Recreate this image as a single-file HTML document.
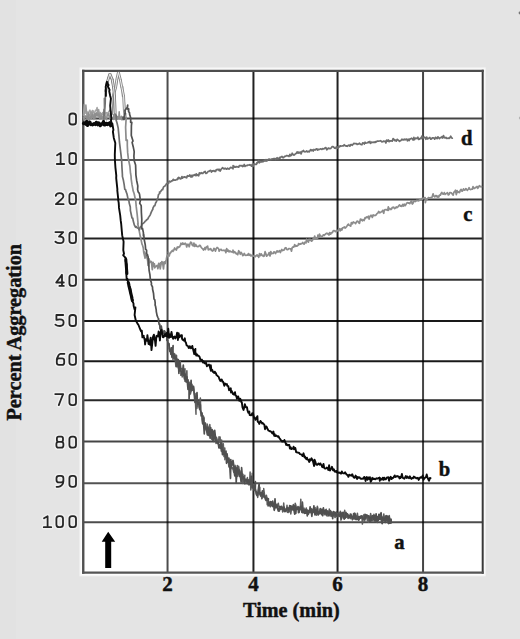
<!DOCTYPE html>
<html><head><meta charset="utf-8"><style>
html,body{margin:0;padding:0;}
body{width:520px;height:639px;overflow:hidden;background:#e3e3e3;}
svg{display:block;}
</style></head><body>
<svg width="520" height="639" viewBox="0 0 520 639">
<rect x="0" y="0" width="520" height="639" fill="#e4e4e4"/>
<rect x="0" y="0" width="16" height="639" fill="#e2e2e2"/>
<rect x="79.5" y="67.4" width="406.2" height="508.9" fill="#f6f6f6"/>
<rect x="80.8" y="68.6" width="403.6" height="506.3" fill="#fdfdfd"/>
<rect x="83.2" y="70.8" width="399.4" height="501.9" fill="#ffffff"/>
<g fill="none">
<line x1="167.55" y1="70.8" x2="167.55" y2="572.7" stroke="#000" stroke-opacity="0.70" stroke-width="2"/>
<line x1="253.45" y1="70.8" x2="253.45" y2="572.7" stroke="#000" stroke-opacity="0.87" stroke-width="2"/>
<line x1="337.55" y1="70.8" x2="337.55" y2="572.7" stroke="#000" stroke-opacity="0.87" stroke-width="2"/>
<line x1="423.05" y1="70.8" x2="423.05" y2="572.7" stroke="#000" stroke-opacity="0.73" stroke-width="2"/>
<line x1="83.2" y1="118.50" x2="482.7" y2="118.50" stroke="#000" stroke-opacity="0.73" stroke-width="2"/>
<line x1="83.2" y1="160.10" x2="482.7" y2="160.10" stroke="#000" stroke-opacity="0.65" stroke-width="2"/>
<line x1="83.2" y1="199.40" x2="482.7" y2="199.40" stroke="#000" stroke-opacity="0.77" stroke-width="2"/>
<line x1="83.2" y1="238.40" x2="482.7" y2="238.40" stroke="#000" stroke-opacity="0.87" stroke-width="2"/>
<line x1="83.2" y1="279.80" x2="482.7" y2="279.80" stroke="#000" stroke-opacity="0.80" stroke-width="2"/>
<line x1="83.2" y1="321.10" x2="482.7" y2="321.10" stroke="#000" stroke-opacity="0.90" stroke-width="2"/>
<line x1="83.2" y1="361.20" x2="482.7" y2="361.20" stroke="#000" stroke-opacity="0.90" stroke-width="2"/>
<line x1="83.2" y1="400.20" x2="482.7" y2="400.20" stroke="#000" stroke-opacity="0.84" stroke-width="2"/>
<line x1="83.2" y1="441.50" x2="482.7" y2="441.50" stroke="#000" stroke-opacity="0.73" stroke-width="2"/>
<line x1="83.2" y1="483.20" x2="482.7" y2="483.20" stroke="#000" stroke-opacity="0.68" stroke-width="2"/>
<line x1="83.2" y1="522.30" x2="482.7" y2="522.30" stroke="#000" stroke-opacity="0.70" stroke-width="2"/>
</g>
<g fill="none">
<line x1="83.25" y1="69.70" x2="83.25" y2="573.80" stroke="#505050" stroke-width="2.4"/>
<line x1="482.70" y1="69.70" x2="482.70" y2="573.80" stroke="#383838" stroke-width="2.0"/>
<line x1="82.05" y1="70.80" x2="483.70" y2="70.80" stroke="#4d4d4d" stroke-width="2.2"/>
<line x1="82.05" y1="572.70" x2="483.70" y2="572.70" stroke="#555555" stroke-width="2.3"/>
</g>
<g fill="none" stroke-linejoin="round" stroke-linecap="round">
<polyline stroke="#a4a4a4" stroke-width="1.5" points="83.5,115.0 84.3,104.3 85.1,113.2 85.9,111.2 86.7,114.0 87.5,112.0 88.3,115.2 89.1,111.3 89.9,110.1 90.7,112.5 91.5,112.2 92.3,110.5 93.1,110.8 93.9,112.9 94.7,112.9 95.5,110.3 96.3,110.6 97.1,107.5 97.9,115.2 98.7,109.6 99.5,114.5 100.3,112.5 101.1,115.9 101.9,115.0 102.7,112.4 103.5,114.9 104.3,109.6 105.1,114.5 105.9,112.9 106.7,112.6 107.5,114.2 108.3,112.3 109.1,111.1 109.9,110.1 110.7,111.2 111.5,114.3 112.3,113.9 111.9,111.5"/>
<polyline stroke="#9a9a9a" stroke-width="1.5" points="83.5,115.4 84.3,112.0 85.1,110.9 85.9,104.9 86.7,113.3 87.5,116.5 88.3,114.1 89.1,115.0 89.9,116.0 90.7,112.2 91.5,119.3 92.3,112.2 93.1,114.7 93.9,119.5 94.7,113.8 95.5,114.2 96.3,113.0 97.1,114.7 97.9,109.7 98.7,112.7 99.5,117.4 100.3,114.4 101.1,113.5 101.9,114.7 102.7,114.8 103.5,114.3 104.3,115.2"/>
<polyline stroke="#8e8e8e" stroke-width="1.5" points="83.5,117.1 84.0,120.0 84.6,119.7 85.1,115.9 85.7,116.4 86.3,115.9 86.8,118.3 87.4,116.9 87.9,118.7 88.5,113.0 89.0,120.5 89.5,116.9 90.1,118.6 90.6,116.8 91.2,116.3 91.8,118.1 92.3,114.3 92.8,116.7 93.4,116.8 94.0,118.6 94.5,115.2 95.0,113.8 95.6,118.0 96.1,115.7 96.7,112.9 97.3,115.4 97.8,116.2 98.3,114.6 98.9,113.9 99.4,117.3 100.0,119.2 100.5,116.7 101.1,115.6 101.6,118.1 102.2,118.8 102.7,116.6 103.3,118.4 103.9,119.5 104.4,116.8 105.0,115.5 105.5,118.0 106.0,117.8 106.6,119.7 107.1,114.5 107.7,115.8 108.3,115.5 108.8,113.5 109.4,117.6 109.9,118.5 110.4,115.7 111.0,120.4 111.5,119.2 112.1,118.7 112.7,118.2 113.2,119.5 113.8,114.4 114.3,118.7 114.9,118.7 115.4,113.5 115.9,118.2 116.5,116.9 117.1,119.1 117.6,116.5 118.1,117.4 118.7,118.2 119.2,111.8 119.8,118.8 120.3,117.2 120.9,118.6 121.4,116.3 122.0,119.9 122.5,118.8 123.1,117.1 123.1,118.8"/>
<polyline stroke="#8c8c8c" stroke-width="1.7" points="112.3,113.9 113.4,98.9 113.1,96.2 113.7,93.1 114.4,90.6 115.6,87.6 115.9,87.6 116.5,83.1 117.2,79.7 116.8,78.3 118.4,74.2 118.8,72.5 118.5,74.1 119.4,76.4 120.5,79.8 120.7,79.4 121.0,84.1 121.5,87.5 122.6,86.8 122.5,91.8 122.6,96.3 123.8,95.8 124.7,109.7 124.9,109.6 125.6,116.9 126.2,117.5 125.7,125.7 125.6,127.3 126.1,140.4 127.3,140.2 127.3,145.5 127.7,152.9 128.4,159.1 129.9,166.2 130.5,173.2 131.0,175.8 131.2,179.1 132.0,184.7 133.1,190.3 133.0,190.4 134.1,193.5 134.7,196.2 135.4,199.6 135.7,200.2 136.2,206.4 137.2,214.7 138.1,223.9 137.7,223.8 138.7,228.0 139.5,232.4 140.5,237.5 140.4,236.7 141.2,240.4 142.0,244.2 142.6,245.5 143.3,248.0 143.3,248.2 143.7,252.2 145.1,258.2 144.6,252.1 145.9,256.0 147.1,258.1 147.7,260.8 148.0,265.5 148.7,263.8 149.1,258.8 149.8,262.4 150.7,261.3 151.4,261.7 152.3,269.6 153.1,262.3 153.7,266.1 154.4,263.9 154.7,267.9 155.5,266.6 156.3,266.0 157.1,265.5 157.9,268.7 158.7,263.3 159.5,266.9 160.6,262.9 160.2,268.9 161.1,264.2 161.8,261.6 162.6,262.4 163.5,269.0 164.2,261.8 165.2,263.5 165.5,262.1 166.2,260.0 166.9,256.5 167.6,255.4 168.7,253.9 168.3,252.0 169.2,256.0 169.8,253.8 170.9,252.4 171.4,251.5 172.5,250.3 173.0,251.4 173.1,250.3 173.7,250.4 174.6,248.0 175.3,249.1 176.4,250.0 177.2,247.2 178.0,247.8 178.0,246.9 178.7,247.2 179.6,247.0 180.6,244.6 181.0,243.2 181.2,243.8 181.9,244.5 182.8,243.0 183.5,244.2 184.3,244.3 185.1,243.2 185.9,243.9 186.7,247.0 187.5,244.3 188.3,244.4 189.2,246.8 189.9,244.0 190.7,242.1 191.6,242.7 191.5,243.1 192.3,245.1 193.2,246.0 193.9,243.0 194.8,246.5 195.8,244.4 196.3,246.0 197.1,246.4 197.8,246.6 198.7,246.4 199.5,245.3 200.3,245.6 201.1,247.2 201.8,248.1 202.7,248.8 203.5,250.1 204.3,248.8 205.1,247.4 205.4,249.6 205.9,248.3 206.6,246.9 207.6,246.1 208.3,249.8 209.1,249.2 209.9,249.6 210.7,248.6 211.4,249.9 212.3,251.1 213.1,250.6 213.9,248.4 214.7,249.2 215.5,251.1 216.2,248.8 217.1,247.5 217.9,247.9 218.7,249.0 219.2,251.2 219.5,250.5 220.3,249.7 221.1,249.3 221.9,250.5 222.7,250.5 223.5,250.2 224.3,250.6 225.1,250.1 225.9,252.7 226.7,248.6 227.5,251.2 228.3,250.1 229.1,251.9 229.9,251.0 230.7,251.7 231.5,251.9 232.4,251.6 233.1,252.5 233.0,250.2 234.0,252.7 234.7,251.7 235.4,252.5 236.2,253.9 237.0,253.6 237.7,254.7 238.7,250.7 239.5,252.2 240.3,254.3 241.0,252.4 241.9,253.5 242.8,255.6 243.5,255.0 244.3,253.4 245.0,255.0 245.9,255.4 246.8,255.0 247.0,254.9 247.6,255.2 248.4,253.6 249.1,255.3 249.8,254.3 250.7,255.8 251.5,255.9 252.3,254.7 253.1,256.2 253.9,256.1 254.8,255.8 255.5,256.6 256.2,255.7 257.1,254.9 257.9,256.2 258.5,256.1 258.7,257.3 259.5,253.7 260.3,255.6 261.2,253.8 261.9,255.2 262.7,255.8 263.5,255.4 263.9,256.3 264.3,255.6 265.1,251.7 265.9,253.8 266.6,256.2 267.5,255.3 268.4,254.4 269.1,252.6 270.0,256.0 270.8,251.6 271.5,253.8 272.3,253.3 273.2,253.4 273.9,251.8 274.6,252.3 275.5,253.6 276.3,251.9 277.1,250.8 277.7,252.0 277.8,252.0 278.7,251.6 279.5,250.6 280.4,252.5 281.0,250.9 281.8,249.5 282.7,250.6 283.7,250.1 284.1,250.0 285.2,247.9 285.9,247.7 286.8,249.5 287.5,249.7 288.3,249.2 289.1,248.5 290.1,248.8 290.7,248.8 291.5,251.2 292.2,247.7 293.1,246.8 293.8,247.2 294.7,244.6 295.5,246.3 296.2,245.6 296.2,246.1 297.0,246.2 298.0,245.4 298.6,243.6 299.5,244.4 300.3,243.6 300.9,244.1 301.9,243.6 302.7,242.5 303.7,243.9 304.1,244.1 305.0,242.2 306.0,242.9 306.6,239.2 307.2,241.0 308.4,242.2 309.1,239.2 309.8,240.1 310.6,239.4 311.4,241.1 312.3,240.8 313.1,238.7 313.8,239.1 314.7,236.1 315.6,239.2 316.2,238.4 317.3,239.0 317.9,235.1 318.8,237.4 319.2,236.5 319.5,234.2 320.3,235.8 320.8,236.1 321.8,236.7 322.8,235.8 323.4,234.8 324.3,235.4 324.9,234.6 325.8,233.8 326.9,233.1 327.5,233.9 328.2,233.7 329.0,235.0 329.7,232.5 330.7,234.2 331.5,232.7 332.4,232.7 333.2,230.8 333.9,230.6 334.6,230.8 335.4,231.7 336.2,230.7 337.1,231.0 337.8,230.3 337.8,230.9 338.7,229.8 339.4,228.7 340.2,230.9 341.2,228.7 341.9,230.0 342.6,227.8 343.4,227.7 344.4,227.0 345.1,228.1 345.8,227.5 346.6,226.6 347.8,224.7 348.5,224.1 349.1,225.3 350.1,225.6 350.7,226.1 351.4,222.5 352.4,223.8 353.3,222.0 353.8,222.3 354.8,222.7 355.6,223.6 356.5,221.8 357.1,221.2 358.0,221.3 358.5,222.5 359.5,223.3 360.4,219.1 361.2,220.0 361.9,219.5 362.5,220.8 363.5,219.7 364.1,220.5 365.1,217.6 365.4,218.5 365.8,217.9 366.8,216.9 367.5,217.5 368.4,216.2 369.1,219.1 369.7,217.1 370.6,215.4 371.4,215.4 372.3,217.4 373.1,214.9 373.8,215.7 374.7,215.3 375.4,215.5 376.4,214.7 376.9,213.6 378.0,212.9 378.7,211.4 379.5,212.8 380.2,212.6 381.2,211.8 381.8,211.7 382.8,210.3 383.7,213.3 384.3,210.4 385.1,209.5 386.0,209.8 386.6,209.7 387.7,210.3 388.3,206.9 388.5,210.3 389.1,208.4 389.9,208.6 390.8,209.5 391.5,209.0 392.3,207.4 393.1,207.7 393.7,207.1 394.6,208.7 395.6,207.9 396.4,206.9 397.0,207.6 398.0,206.8 398.8,205.6 399.6,204.9 400.4,206.2 400.9,205.8 401.9,206.4 402.6,204.5 403.6,206.1 404.2,204.1 405.1,205.7 406.0,204.5 406.6,203.2 407.5,202.6 408.3,203.1 409.1,202.8 409.8,203.7 410.8,201.9 411.7,200.8 411.5,202.3 412.4,204.0 412.9,203.5 413.8,201.1 414.8,201.2 415.5,201.6 416.4,200.4 417.2,200.6 417.9,200.3 418.7,200.9 419.5,199.6 420.3,199.5 420.9,200.0 422.0,198.4 422.5,199.4 423.4,198.1 424.3,198.1 425.2,197.6 425.4,202.6 426.0,199.7 426.7,199.6 427.5,198.9 428.3,197.6 429.0,197.7 429.9,197.8 430.7,197.7 431.5,197.7 432.1,196.9 433.1,193.8 433.7,195.9 434.8,196.9 435.5,195.7 436.4,195.7 437.2,197.2 437.8,196.1 438.8,197.0 439.5,195.0 440.4,195.1 441.0,193.6 441.8,192.5 442.6,193.9 443.4,194.1 443.8,193.7 444.3,192.6 445.1,194.4 445.9,193.7 446.7,193.5 447.4,192.6 448.3,194.9 449.1,194.5 449.8,192.6 450.7,192.7 451.4,192.9 452.4,194.2 453.2,195.2 453.8,192.3 454.7,191.7 455.5,190.2 456.3,194.6 457.1,190.6 458.0,192.4 458.6,191.9 459.5,192.6 460.3,190.3 461.1,189.4 461.9,191.0 462.2,191.2 462.7,190.5 463.5,188.8 464.2,190.2 465.0,189.9 465.9,188.6 466.7,189.6 467.4,190.3 468.3,189.3 469.1,187.7 469.9,189.3 470.8,189.6 471.6,189.1 472.3,189.2 473.0,186.6 473.8,188.5 474.8,188.4 475.5,187.3 476.4,187.4 477.0,186.5 477.9,188.3 478.6,186.6 479.4,185.7 480.2,186.7 481.1,186.4 481.5,186.9"/>
<polyline stroke="#6e6e6e" stroke-width="1.7" points="104.3,115.2 104.6,111.3 105.2,102.7 105.5,90.8 105.6,90.3 106.4,85.1 107.3,81.1 107.7,81.0 108.0,78.4 108.8,76.7 109.9,73.8 109.8,74.2 110.7,75.3 111.1,78.5 112.8,79.4 112.2,80.6 113.0,85.1 113.1,86.1 114.0,90.9 114.8,95.9 114.6,100.6 114.8,105.3 115.0,113.2 116.2,115.3 116.4,119.6 116.1,120.1 117.1,123.2 118.2,128.1 118.4,130.3 118.8,134.4 119.3,140.1 119.4,141.7 120.5,150.6 121.6,159.8 122.0,168.1 122.4,174.5 122.4,176.4 123.4,180.3 124.1,184.2 124.8,189.3 125.6,189.8 126.0,191.4 127.0,194.0 127.6,196.9 128.2,199.9 128.8,199.8 129.2,203.0 130.3,207.0 130.4,210.6 131.4,215.2 132.0,218.0 132.7,218.0 133.2,220.8 133.6,222.3 134.4,225.2 135.6,227.3 135.2,226.8 136.2,226.5 137.1,227.9 137.8,228.0 138.7,228.6 139.0,229.4 139.5,229.8 140.0,227.5 141.4,226.2 142.1,224.3 141.8,224.7 142.6,223.5 143.2,223.5 144.6,222.1 145.0,221.4 146.0,220.6 146.8,219.6 147.7,219.2 148.3,218.1 148.4,217.5 149.2,216.5 150.1,215.1 150.5,214.1 151.5,211.7 151.9,210.9 152.9,209.0 152.9,208.2 154.1,205.8 154.9,205.6 155.7,202.8 155.7,202.8 156.1,202.3 157.1,200.0 157.1,199.5 157.8,198.3 158.5,194.5 159.8,193.3 159.5,192.1 160.5,191.8 161.0,191.0 162.3,189.3 162.7,189.5 163.5,187.0 163.7,186.8 164.0,186.5 164.7,186.3 165.9,184.7 166.5,183.8 167.5,183.4 168.7,183.3 168.4,182.0 169.3,181.2 169.9,181.7 170.6,181.9 171.6,180.8 172.4,180.9 173.2,179.3 173.8,180.3 174.6,180.0 175.6,180.1 176.5,179.5 177.3,179.6 177.7,178.1 177.9,179.2 178.7,177.4 179.6,178.0 180.3,179.0 181.1,178.7 181.9,176.6 182.5,178.1 183.4,177.2 184.3,176.8 185.0,177.3 186.0,177.1 186.6,177.8 187.5,175.7 188.4,176.2 189.2,176.2 189.8,174.9 190.7,176.8 191.6,177.0 191.5,175.4 192.4,176.7 192.9,175.2 193.9,175.4 194.7,174.6 195.5,175.5 196.2,173.9 197.0,175.5 197.9,174.6 198.7,175.8 199.4,172.8 200.4,173.7 201.2,172.7 201.9,173.3 202.8,173.5 203.4,172.4 204.3,171.9 205.2,171.5 205.4,172.8 205.9,173.4 206.7,173.1 207.5,172.2 208.3,171.3 209.0,171.5 209.9,170.6 210.7,170.4 211.5,172.0 212.2,170.9 213.1,171.1 214.0,170.6 214.7,171.5 215.6,171.4 216.2,169.7 217.0,169.8 217.9,169.4 218.6,169.6 219.1,170.5 219.4,169.3 220.3,171.0 221.1,169.3 222.0,168.3 222.7,167.6 223.5,168.8 224.3,169.0 225.1,168.2 225.9,168.7 226.7,169.2 227.5,168.2 228.4,168.7 229.0,169.1 229.9,168.2 230.7,167.3 231.5,167.8 232.3,167.8 233.0,168.8 233.1,165.6 233.9,166.1 234.7,167.2 235.5,167.1 236.2,166.5 237.0,167.0 237.9,166.7 238.7,167.2 239.4,165.7 240.3,165.6 241.1,166.0 242.0,165.5 242.7,166.6 243.5,166.0 244.2,164.5 245.0,166.4 245.9,165.5 246.7,165.7 247.0,165.6 247.5,165.0 248.3,165.0 249.1,165.2 249.9,164.6 250.7,165.2 251.5,166.1 251.6,165.7 252.2,164.5 253.0,166.4 253.9,163.8 254.8,164.2 255.4,164.3 256.5,164.3 257.0,162.5 257.8,162.8 258.7,160.5 259.5,162.8 260.2,162.0 260.9,161.8 261.2,161.8 261.9,161.8 262.8,161.6 263.5,161.6 264.5,160.2 265.1,161.1 265.9,159.6 266.7,161.0 267.5,160.3 268.3,159.4 269.1,159.0 269.9,159.6 270.8,159.6 271.5,159.0 272.4,158.9 273.1,158.8 274.0,158.5 274.6,158.6 275.3,158.7 275.6,159.4 276.4,158.8 277.1,157.7 277.7,159.0 278.8,158.5 279.5,157.4 280.2,158.0 281.2,156.8 282.0,156.4 282.7,157.6 283.5,157.7 284.4,156.4 285.2,156.4 286.0,156.0 286.7,155.5 287.7,155.9 288.3,155.8 289.0,156.5 289.9,154.4 290.6,155.8 291.5,155.0 292.2,153.2 293.2,154.8 294.0,155.1 294.8,154.5 295.5,153.7 296.2,153.5 297.1,151.8 297.9,153.2 298.5,152.9 298.7,152.1 299.5,152.8 300.3,152.0 301.1,153.9 301.9,151.4 302.7,151.5 303.4,150.5 304.3,151.6 305.2,151.8 305.9,151.6 306.6,151.0 307.5,151.9 308.3,151.3 309.1,151.9 309.9,150.8 310.6,149.6 311.5,150.6 312.2,149.8 313.2,151.0 313.9,149.5 314.7,150.0 315.4,150.0 316.3,148.8 317.1,149.5 317.8,150.2 317.9,149.2 318.7,149.4 319.6,149.5 320.3,148.8 321.1,149.0 321.9,149.4 322.6,148.7 323.5,148.9 324.3,148.6 325.1,147.9 325.9,147.6 326.7,149.8 327.5,149.2 328.3,148.1 329.0,148.2 329.9,148.7 330.7,148.5 331.5,147.5 332.2,146.6 333.1,146.7 333.9,147.3 334.6,148.2 335.5,148.3 336.3,146.9 336.9,146.8 337.0,147.8 337.9,148.3 338.7,146.1 339.5,146.9 340.3,145.8 341.0,146.1 341.9,146.0 342.6,145.8 343.6,145.9 344.2,144.7 345.0,145.6 345.9,146.1 346.6,145.9 347.5,146.3 348.3,145.3 349.1,145.1 349.9,146.2 350.7,144.6 351.5,144.7 352.3,145.3 353.1,144.3 353.9,143.3 354.6,143.7 355.4,143.6 356.0,143.7 356.4,143.5 357.1,144.4 357.9,144.1 358.7,143.9 359.5,143.2 360.2,144.1 361.1,144.5 361.9,144.8 362.7,142.8 363.5,143.1 364.3,144.0 365.1,142.2 365.9,143.1 366.7,143.0 367.5,142.8 368.4,142.0 369.1,142.6 369.9,141.5 370.7,143.3 371.5,142.1 372.3,142.4 373.1,142.2 374.0,142.3 374.6,142.2 375.4,142.3 375.5,141.7 376.3,142.0 377.1,141.1 377.9,141.1 378.7,141.2 379.5,141.0 380.3,140.7 381.1,141.1 381.9,141.9 382.7,141.7 383.5,141.1 384.3,141.5 385.1,141.2 385.9,143.0 386.7,140.0 387.5,141.2 388.3,140.0 389.1,141.7 389.9,140.7 390.7,141.1 391.5,140.8 392.3,141.1 393.1,138.5 393.9,139.7 394.6,140.5 394.7,139.5 395.5,140.7 396.3,141.1 397.1,139.3 397.9,139.9 398.7,140.5 399.5,141.3 400.3,140.7 401.1,140.4 401.9,139.2 402.7,139.8 403.5,139.8 404.3,139.2 405.1,139.8 405.8,139.3 406.7,139.1 407.5,140.8 408.3,139.2 409.1,140.5 409.9,138.9 410.7,139.0 411.4,138.2 412.3,138.5 413.1,140.0 413.8,138.8 413.9,137.4 414.6,139.7 415.5,138.1 416.3,138.3 417.1,138.6 417.9,137.2 418.7,139.5 419.5,139.3 420.3,138.1 421.1,138.5 421.9,136.0 422.7,137.8 423.5,138.0 424.3,137.1 425.1,137.7 425.4,137.6 425.9,139.3 426.7,137.0 427.5,138.9 428.3,138.5 429.1,138.1 429.9,137.5 430.7,139.2 431.5,138.9 432.3,137.9 433.1,137.8 433.9,138.0 434.7,139.2 435.5,137.3 436.3,137.9 437.1,138.7 437.9,136.9 438.7,137.8 439.5,138.6 440.3,137.5 441.1,137.7 441.9,136.7 442.7,138.1 443.5,135.5 444.3,137.5 445.1,138.0 445.9,137.4 446.7,138.4 447.5,138.3 448.3,138.1 449.1,138.4 449.9,137.6 450.7,136.2 451.5,137.8 452.3,138.2"/>
<polyline stroke="#8a8a8a" stroke-width="2.8" stroke-linejoin="miter" stroke-miterlimit="2.5" points="113.3,96.0 115.7,87.2 116.8,79.5 118.4,72.2 120.3,79.5 121.8,87.2 123.6,96.0 124.3,109.8 125.0,116.7"/>
<polyline stroke="#f4f4f4" stroke-width="1.0" stroke-linejoin="miter" stroke-miterlimit="2.5" points="113.3,96.0 115.7,87.2 116.8,79.5 118.4,72.2 120.3,79.5 121.8,87.2 123.6,96.0 124.3,109.8 125.0,116.7"/>
<polyline stroke="#808080" stroke-width="2.8" stroke-linejoin="miter" stroke-miterlimit="2.5" points="105.7,91.0 107.6,81.0 109.9,73.8 112.2,79.5 113.4,86.5 114.5,96.0 114.9,105.0 115.2,113.0"/>
<polyline stroke="#f0f0f0" stroke-width="1.0" stroke-linejoin="miter" stroke-miterlimit="2.5" points="105.7,91.0 107.6,81.0 109.9,73.8 112.2,79.5 113.4,86.5 114.5,96.0 114.9,105.0 115.2,113.0"/>
<polyline stroke="#5e5e5e" stroke-width="1.5" points="168.5,345.0 169.1,343.5 169.3,348.2 169.7,351.2 170.6,351.3 171.1,347.8 171.9,350.5 172.0,353.4 172.1,354.3 172.7,351.2 172.9,359.6 173.6,355.6 174.1,353.5 175.0,354.3 175.1,358.0 175.9,366.6 176.9,364.6 176.5,355.2 176.6,362.4 177.8,365.1 178.2,367.8 178.8,368.0 179.4,365.6 178.9,369.5 179.5,366.7 180.3,360.9 180.5,367.7 181.2,368.6 182.2,369.4 182.2,377.0 183.1,369.6 183.8,375.2 183.9,375.3 184.0,370.0 185.0,368.8 184.9,381.2 186.2,379.4 186.1,377.7 186.9,370.7 187.2,382.1 187.5,380.7 188.2,379.8 188.6,383.0 189.2,385.1 189.3,388.4 190.1,387.2 190.4,394.1 191.3,390.3 191.8,389.8 192.0,384.3 192.5,390.5 192.8,390.3 193.6,386.3 193.9,391.4 194.9,396.5 195.1,393.4 196.0,414.2 195.9,403.7 196.4,396.9 196.9,401.6 196.9,408.4 198.1,401.4 198.2,400.9 198.5,404.2 199.6,402.3 200.4,397.9 200.7,410.8 200.4,408.1 200.7,413.2 201.0,415.9 202.1,413.2 202.7,417.1 203.3,416.0 203.9,417.6 203.9,417.8 204.2,423.4 204.8,422.9 205.3,425.9 206.0,429.7 206.8,430.9 207.2,424.1 207.8,426.3 208.0,429.0 208.4,430.9 209.0,434.7 209.7,427.6 209.8,424.4 210.5,433.6 211.1,438.1 211.6,439.2 212.4,430.3 212.9,434.0 212.8,431.8 213.7,438.9 214.0,438.1 214.6,435.7 214.8,435.5 215.7,439.8 216.0,443.5 216.4,437.2 217.2,439.7 217.5,442.1 217.5,441.8 218.4,443.9 219.0,436.7 219.2,442.0 220.1,437.1 220.7,446.3 221.3,451.2 221.6,439.9 222.0,446.3 222.9,452.8 222.6,449.2 223.3,443.8 224.0,456.6 224.8,448.0 224.9,459.8 225.5,453.6 226.1,454.3 226.6,458.3 227.4,459.4 227.6,462.3 228.0,462.4 228.1,460.5 228.9,467.0 229.1,465.3 229.7,464.3 230.7,464.5 230.9,464.3 231.1,465.1 231.9,468.7 232.4,468.7 232.7,467.7 233.7,472.2 234.2,467.7 234.1,470.6 234.9,472.8 235.0,465.3 236.0,469.2 236.4,478.2 237.3,465.4 237.5,476.2 238.1,467.8 238.6,466.2 239.1,468.7 239.6,470.9 239.9,472.0 240.3,472.4 240.9,477.4 241.4,479.7 241.8,478.1 242.8,476.7 242.8,483.6 243.7,480.2 244.1,478.7 244.8,475.3 244.6,480.3 245.4,480.6 245.8,479.3 246.5,481.5 247.2,482.0 247.4,477.5 248.0,482.1 248.2,481.9 249.1,482.1 249.7,480.6 250.1,472.0 250.4,482.4 250.7,486.5 250.8,489.9 252.0,483.2 252.2,473.3 252.6,485.0 253.7,484.4 254.1,486.4 254.7,489.5 254.6,485.9 255.0,490.6 255.8,491.6 256.1,494.1 256.8,495.4 257.2,493.4 257.7,497.5 258.5,489.9 258.8,492.6 259.8,487.2 259.9,493.9 260.8,496.0 261.1,492.5 261.8,498.8 262.4,497.9 262.5,495.7 263.5,496.4 263.8,492.7 263.7,488.5 264.7,496.0 265.1,497.8 265.7,498.3 266.4,495.2 266.9,497.8 267.2,504.7 267.6,502.5 268.6,502.9 268.7,502.4 269.1,504.6 270.4,506.8 270.6,505.7 270.3,502.5 271.1,504.8 271.4,501.7 272.2,503.6 272.7,506.5 273.1,503.5 273.9,504.7 274.3,509.8 275.0,508.0 275.4,507.8 276.2,505.8 276.7,504.3 277.1,507.0 277.4,506.5 278.3,503.2 278.6,505.4 279.0,506.9 279.4,511.1 279.9,506.9 280.4,507.9 280.9,509.4 281.5,508.7 282.1,507.4 282.6,511.9 283.2,511.2 283.7,503.0 284.3,510.4 284.8,509.6 285.4,510.6 285.9,508.7 286.5,510.4 287.0,505.2 287.5,512.4 288.1,512.6 288.7,511.1 289.2,511.9 289.8,510.9 290.2,506.5 290.8,513.9 291.4,509.6 291.9,509.8 292.6,509.4 293.1,510.2 293.3,504.6 293.7,509.8 294.1,506.6 294.7,507.2 295.2,503.3 295.8,504.9 296.4,507.9 296.9,508.5 297.5,509.4 298.0,509.3 298.5,507.3 299.2,508.3 299.7,507.1 300.2,509.3 300.8,499.2 301.3,509.2 301.9,512.1 302.4,512.8 302.9,512.7 303.5,511.4 304.0,508.1 304.6,512.4 305.2,511.6 305.8,511.1 306.3,507.9 306.7,511.5 307.3,513.7 307.7,512.3 307.9,510.2 308.5,514.2 309.0,510.8 309.6,511.3 310.1,512.8 310.7,511.7 311.2,511.2 311.7,511.9 312.3,510.5 312.9,509.0 313.4,512.3 313.9,510.0 314.5,512.6 315.1,507.4 315.6,514.1 316.1,511.3 316.7,515.2 317.3,506.2 317.8,508.0 318.4,514.8 318.9,512.1 319.5,512.5 320.0,509.0 320.5,512.3 321.1,513.2 321.6,509.9 322.1,511.7 322.2,514.9 322.7,512.6 323.3,511.0 323.8,512.6 324.4,514.7 324.9,512.1 325.5,512.3 326.2,509.2 326.6,514.7 327.1,516.1 327.7,510.8 328.2,513.9 328.9,515.5 329.3,509.1 330.0,513.7 330.4,514.5 331.1,513.4 331.6,511.8 332.1,515.0 332.6,516.5 333.3,513.7 333.7,515.5 334.2,515.2 335.0,517.6 335.4,517.1 335.9,514.4 336.6,512.1 336.4,511.7 337.0,513.8 337.6,513.9 338.2,515.3 338.7,512.3 339.2,514.6 339.8,516.1 340.3,511.3 340.9,520.1 341.4,519.1 342.1,516.4 342.5,512.5 343.1,513.1 343.6,517.7 344.2,518.4 344.7,510.3 345.3,518.2 345.8,517.3 346.5,517.2 346.9,513.5 347.5,516.6 348.1,514.7 348.7,517.4 349.3,517.4 349.7,517.7 350.3,518.6 350.9,515.8 351.0,514.3 351.4,516.6 351.9,518.8 352.4,519.9 353.0,516.6 353.6,517.3 354.1,515.9 354.7,513.1 355.2,517.1 355.8,519.6 356.3,516.1 356.8,516.7 357.4,513.2 357.9,517.3 358.6,520.3 359.0,517.3 359.6,518.7 360.2,518.4 360.7,515.9 361.3,518.0 361.8,515.8 362.4,524.1 363.0,518.2 363.5,515.4 364.0,514.5 364.5,521.2 365.1,519.3 365.4,518.9 365.7,515.0 366.2,516.8 366.7,515.4 367.3,520.5 367.9,516.9 368.4,522.3 368.9,519.2 369.5,517.4 370.1,521.1 370.6,513.5 371.1,516.3 371.7,517.3 372.2,520.5 372.8,520.6 373.3,519.0 373.9,514.3 374.4,517.1 375.0,515.8 375.6,521.0 376.1,517.3 376.6,519.4 377.2,522.4 377.7,518.2 378.3,519.9 378.9,515.0 379.4,518.5 379.8,518.5 380.0,518.4 380.5,518.6 381.1,517.7 381.5,522.7 382.2,517.2 382.7,519.2 383.2,518.1 383.8,513.9 384.3,521.0 384.9,519.4 385.4,516.0 386.0,517.4 386.5,515.6 387.0,519.8 387.6,522.6 388.2,521.9 388.7,516.5 389.3,515.6 389.8,520.6 390.4,523.2 390.9,519.6 391.3,521.9"/>
<polyline stroke="#505050" stroke-width="1.7" points="123.1,117.1 123.1,118.8 124.0,119.5 124.4,117.0 125.0,112.4 125.4,113.8 125.1,112.6 124.9,110.5 126.5,108.2 127.3,108.7 127.7,105.2 127.3,107.1 128.0,109.5 128.7,108.8 128.6,111.7 129.5,112.6 129.6,114.2 130.8,118.2 130.6,122.3 131.8,122.4 131.4,125.7 131.3,135.4 133.0,141.0 132.1,142.4 133.2,146.7 134.2,151.7 133.9,156.2 134.2,160.8 135.6,165.1 135.8,170.6 135.9,175.2 135.9,174.9 136.7,180.7 137.8,185.9 137.6,189.6 138.2,192.0 139.0,192.9 139.5,194.0 140.1,198.4 140.5,200.1 139.7,203.3 141.2,205.6 141.4,212.7 141.8,219.4 141.6,224.9 141.8,228.9 142.5,228.3 143.4,232.7 143.4,235.7 143.7,234.3 144.3,240.0 145.3,245.2 145.4,246.4 145.6,249.1 146.6,250.2 146.6,253.9 147.5,254.7 147.0,255.6 148.0,256.0 148.4,260.2 149.0,266.4 148.8,265.6 149.1,270.3 149.9,274.7 150.4,279.9 151.2,282.1 151.5,283.2 151.3,284.7 152.5,287.0 152.6,289.3 153.5,293.2 153.7,295.3 154.0,299.0 154.8,299.9 155.2,303.0 155.1,305.1 155.5,306.0 156.2,309.9 156.3,311.6 157.1,315.6 158.0,317.8 158.8,319.2 158.3,319.6 159.2,324.5 159.7,324.1 159.8,324.5 160.0,328.9 161.3,326.1 161.8,329.3 162.7,330.7 162.5,330.9 162.9,331.6 163.6,331.9 163.6,333.9 164.4,330.9 164.8,331.3 165.4,332.9 165.6,335.3 165.1,335.7 166.9,336.8 166.8,340.2 167.8,340.4 167.5,341.1 168.3,343.6 169.0,344.4 169.4,348.0 169.3,348.2 170.2,351.9 170.5,351.3 170.9,354.4 171.7,347.8 171.9,357.3 173.1,345.7 172.9,352.2 173.2,354.9 173.8,354.5 174.0,358.7 174.5,356.4 175.4,360.0 176.0,357.4 176.8,366.7 176.6,361.9 176.7,358.5 177.7,364.2 178.3,359.6 178.9,373.4 179.3,362.3 178.9,368.9 180.0,370.9 180.1,364.0 181.0,371.6 181.0,375.2 182.1,373.9 182.3,373.9 183.3,365.1 184.0,375.2 184.2,376.3 183.8,375.0 184.5,379.0 185.0,374.1 186.0,381.9 186.4,381.9 186.9,376.9 187.5,383.6 188.0,389.4 188.2,387.0 189.0,382.3 189.1,399.0 189.7,384.5 189.7,386.7 190.4,388.5 191.1,380.3 191.4,390.6 191.9,386.2 192.7,388.4 192.8,386.3 193.4,387.1 193.9,390.3 194.6,398.1 195.0,402.3 195.8,396.7 196.1,401.4 196.4,397.0 197.0,392.5 197.4,401.7 197.9,404.3 199.0,402.6 199.0,406.9 199.8,409.4 200.1,405.7 200.4,404.7 200.5,409.7 200.9,411.6 201.8,412.9 202.1,419.6 202.7,424.0 203.8,418.2 203.5,422.5 204.3,434.0 204.6,424.9 205.3,427.4 205.4,423.2 206.2,428.7 207.4,434.8 207.5,428.3 208.1,427.2 208.1,432.3 208.5,435.4 208.7,432.4 209.3,429.2 210.1,438.2 210.7,427.6 211.0,435.2 211.6,433.7 212.1,429.5 212.7,440.1 212.6,436.4 213.0,431.0 213.8,441.4 214.0,435.4 214.7,430.4 215.3,435.9 215.8,440.4 216.7,442.7 217.0,441.6 217.7,441.9 217.5,443.5 218.1,441.8 218.9,448.0 219.4,444.9 219.8,446.4 220.5,448.2 221.0,442.9 221.6,445.1 222.5,454.7 222.4,450.7 222.8,453.3 223.3,452.2 223.7,450.3 224.0,454.4 225.0,452.1 225.5,456.8 226.0,451.1 226.5,463.3 227.0,457.5 227.1,453.9 227.7,459.5 227.7,459.6 228.7,462.4 228.9,458.0 229.7,464.8 230.5,478.4 230.8,459.6 231.3,466.7 232.1,464.9 232.5,461.5 233.0,460.4 233.5,463.7 234.3,470.5 234.3,472.9 234.8,475.9 235.1,466.9 236.0,470.9 236.2,482.4 237.0,468.1 237.3,468.0 238.4,471.9 238.3,472.3 239.4,476.4 239.8,473.9 239.5,470.5 240.2,474.6 241.1,482.0 241.6,478.7 241.6,467.7 242.3,475.7 242.8,474.2 243.3,479.0 244.0,477.3 244.9,483.9 244.7,481.0 245.2,481.3 245.7,479.6 246.4,479.3 246.9,480.8 247.2,483.9 248.2,482.0 248.3,479.8 249.0,484.9 249.7,482.1 250.4,484.2 250.3,479.8 250.8,481.0 251.5,476.4 251.9,476.4 252.6,487.9 253.1,487.5 253.5,486.2 254.1,490.5 254.8,489.6 254.6,489.5 255.4,481.7 255.3,488.6 256.0,491.2 257.0,494.8 257.4,495.8 257.7,495.1 258.5,488.0 259.1,483.9 259.4,493.8 260.2,492.7 260.6,495.8 261.1,493.0 261.7,494.5 262.4,490.9 262.6,495.9 263.3,493.8 263.9,496.4 263.6,496.8 264.1,495.9 265.1,497.8 265.5,499.6 266.1,500.5 266.7,500.4 267.0,498.2 268.4,498.7 268.1,506.0 268.7,501.5 269.1,505.3 269.8,504.3 270.5,501.9 270.5,501.5 271.1,504.3 271.5,505.0 272.4,506.3 272.7,501.0 273.1,503.3 273.9,505.0 274.3,510.3 275.0,498.9 275.5,507.1 276.0,505.2 276.6,507.6 277.0,505.9 277.4,508.0 278.3,510.9 278.7,508.5 278.8,511.1 279.3,508.7 279.8,506.3 280.4,509.1 281.0,507.6 281.5,506.3 282.0,508.0 282.5,507.7 283.1,509.9 283.7,508.2 284.2,507.2 284.8,511.6 285.3,510.6 285.9,511.3 286.4,509.9 287.0,508.4 287.5,507.7 288.2,508.1 288.7,510.8 289.2,509.0 289.7,505.6 290.3,508.8 290.8,505.9 291.3,509.4 291.9,506.4 292.5,506.4 293.0,509.4 293.3,509.0 293.6,505.6 294.1,510.9 294.7,514.1 295.3,506.2 295.8,513.4 296.3,508.0 296.9,508.5 297.5,509.2 298.0,506.5 298.5,512.6 299.1,512.5 299.7,508.2 300.2,509.3 300.8,506.3 301.3,509.3 301.9,512.1 302.4,502.2 303.0,509.3 303.5,512.4 304.0,512.6 304.6,513.3 305.1,509.4 305.7,513.1 306.2,511.5 306.8,509.8 307.3,516.0 307.7,513.1 307.9,514.4 308.5,511.2 309.1,510.4 309.5,512.1 310.1,506.8 310.6,510.9 311.2,508.7 311.8,516.3 312.3,512.6 312.8,511.5 313.4,510.8 313.9,505.8 314.5,512.9 315.1,515.0 315.6,509.9 316.2,513.0 316.7,513.2 317.2,508.2 317.8,513.7 318.3,514.7 318.9,512.3 319.4,511.7 320.0,513.6 320.5,508.6 321.1,512.2 321.7,514.4 322.0,509.4 322.2,514.3 322.7,515.7 323.4,507.8 323.8,512.1 324.5,510.3 324.8,513.3 325.5,510.1 326.0,515.0 326.6,511.2 327.1,513.7 327.6,511.7 328.2,512.4 328.9,515.8 329.4,513.7 329.8,512.5 330.5,510.7 331.0,516.1 331.5,515.2 332.0,513.0 332.7,518.7 333.3,511.6 333.7,511.7 334.3,512.2 334.9,514.9 335.5,514.9 335.8,512.7 336.5,516.0 336.5,516.1 337.0,514.9 337.6,516.8 338.2,514.0 338.7,514.5 339.2,515.8 339.8,514.8 340.3,516.7 340.9,512.3 341.5,518.2 342.0,513.5 342.5,514.9 343.2,512.3 343.7,516.7 344.2,519.2 344.7,517.9 345.3,517.4 345.9,512.3 346.4,514.1 346.9,514.8 347.5,513.9 348.1,518.4 348.6,516.5 349.1,516.1 349.8,517.3 350.3,514.2 350.8,514.4 350.9,516.6 351.3,515.2 351.9,517.2 352.5,517.8 353.0,519.0 353.6,513.7 354.1,515.5 354.6,518.9 355.1,513.9 355.7,515.7 356.2,519.2 356.8,519.4 357.4,519.4 358.0,517.2 358.5,516.7 359.0,519.6 359.7,516.5 360.2,518.1 360.7,517.7 361.2,516.7 361.7,516.2 362.4,517.1 362.9,518.9 363.5,518.8 364.0,518.1 364.6,519.0 365.1,514.4 365.4,516.0 365.6,518.3 366.2,515.9 366.7,515.0 367.3,515.3 367.8,516.0 368.4,517.6 368.9,515.8 369.5,518.5 370.0,521.8 370.6,517.3 371.1,520.9 371.7,518.7 372.2,515.6 372.8,517.5 373.3,516.0 373.9,519.8 374.4,515.6 375.0,521.1 375.6,518.0 376.1,513.8 376.6,519.9 377.2,521.6 377.7,516.5 378.3,520.4 378.9,514.3 379.4,518.8 379.8,514.7 380.0,519.4 380.5,514.5 381.1,512.7 381.6,519.4 382.2,523.6 382.7,517.3 383.3,520.5 383.9,519.0 384.4,518.1 384.9,520.2 385.5,522.5 386.0,516.2 386.6,520.2 387.1,519.8 387.7,516.0 388.2,522.7 388.7,523.5 389.3,517.2 389.8,523.2 390.4,519.5 391.0,519.1 391.3,522.8"/>
<polyline stroke="#777" stroke-width="1.5" points="103.5,122.0 103.6,125.2 103.9,109.8 104.4,108.4 104.3,98.2"/>
<polyline stroke="#0a0a0a" stroke-width="1.9" points="105.9,95.9 105.9,87.7 105.6,87.1 106.8,82.0 107.2,81.9 107.7,83.8 108.6,85.1 107.8,86.1 109.6,89.9 109.2,91.0 110.2,96.0 110.9,98.6 110.2,105.5 110.5,110.0 111.4,118.5 111.0,120.2 111.5,123.3 112.3,123.5 113.4,129.9 112.9,131.5 113.8,137.9 115.3,142.9 114.8,154.6 114.9,159.8 115.4,167.3 116.3,175.6 116.2,178.1 117.4,189.3 117.3,190.4 118.2,198.6 118.2,200.1 118.7,202.9 118.9,205.7 119.0,207.9 120.2,215.4 120.7,220.4 121.2,224.0 121.9,232.1 122.2,235.4 123.6,241.6 123.3,250.3 124.0,253.8 123.2,255.3 124.5,256.6 125.4,257.9 125.9,258.1 125.6,261.0 126.7,264.6 126.4,270.4 126.2,272.1 126.7,279.7 127.5,279.1 128.2,283.0 128.7,283.4 129.3,286.4 130.4,289.1 130.6,291.6 130.7,293.1 131.5,296.7 132.0,299.3 132.0,300.6 132.9,302.3 133.5,303.4 133.6,305.7 134.7,309.7 135.4,307.4 134.6,315.0 135.9,321.0 136.0,320.8 137.1,322.9 137.5,323.7 138.5,325.0 140.1,329.1 139.8,328.2 140.3,329.5 141.1,331.3 141.8,330.7 142.4,337.3 143.7,335.8 143.8,336.5 144.7,339.9 145.1,344.5 145.8,339.2 146.9,340.8 147.4,335.1 148.6,344.0 149.1,342.5 150.1,344.8 150.0,340.8 150.7,337.6 151.5,350.1 152.4,342.1 153.0,336.9 153.9,334.7 154.6,340.0 154.7,338.0 155.6,345.8 156.4,336.0 156.9,335.7 158.0,336.5 158.6,331.5 159.2,333.3 159.9,340.5 160.3,335.2 161.1,329.7 161.9,331.6 162.8,337.1 163.5,337.3 164.3,336.0 165.1,334.0 165.9,336.0 166.7,336.2 167.0,332.6 167.5,336.9 168.3,328.8 169.1,337.8 169.9,334.4 170.7,337.1 171.5,332.0 172.3,336.6 173.1,338.8 173.9,337.1 174.7,336.5 175.4,338.4 176.3,337.2 177.1,332.7 177.9,335.6 177.9,340.0 178.6,333.2 179.5,337.2 180.2,336.3 180.9,335.2 181.9,335.3 182.0,338.5 182.5,339.6 183.7,340.6 184.8,338.3 185.2,341.6 185.9,342.5 186.6,345.4 187.9,346.0 188.4,347.2 188.7,348.0 189.1,348.0 189.8,346.2 191.0,348.3 191.5,347.8 192.3,345.9 192.7,347.7 194.3,354.2 194.8,350.0 195.4,348.9 195.3,351.5 196.2,355.6 196.7,354.2 198.0,355.8 198.5,355.7 199.6,356.9 200.4,359.8 201.5,360.0 201.9,359.6 202.8,362.0 203.1,362.6 203.4,361.2 204.3,362.7 205.2,363.5 206.1,362.8 206.9,366.4 207.4,365.2 208.5,365.3 209.0,364.5 209.6,365.9 211.0,370.9 210.8,365.1 211.4,370.1 212.1,369.7 213.0,371.9 214.3,372.9 214.7,371.7 216.0,373.3 216.3,374.7 217.3,375.6 217.9,376.3 218.6,376.7 219.4,379.0 220.3,380.9 220.9,380.5 221.7,379.4 222.4,381.6 223.0,381.5 223.5,382.9 224.3,385.8 224.9,383.5 226.1,384.6 226.9,384.1 227.3,385.8 228.3,386.2 229.1,390.3 229.6,389.2 230.8,388.3 231.0,392.5 231.6,390.8 232.6,392.9 233.0,394.1 234.0,394.5 235.0,392.2 235.5,395.4 236.4,396.1 236.9,398.8 238.1,396.4 239.0,398.9 239.3,400.9 239.4,399.9 240.3,398.8 241.4,402.1 241.8,402.2 242.5,407.5 243.5,409.9 244.6,406.0 244.8,404.1 245.9,407.3 247.0,407.1 247.5,410.4 248.3,412.8 249.3,411.6 249.7,415.1 251.1,415.2 251.6,414.8 252.2,413.3 252.3,414.9 253.1,413.3 253.9,417.8 254.5,417.3 255.5,419.8 256.0,418.9 257.4,416.2 257.7,421.8 258.6,422.1 259.3,423.9 260.4,421.0 261.1,421.8 262.2,423.6 262.6,423.1 263.5,423.8 264.3,424.6 265.0,429.2 266.1,426.5 266.4,426.4 266.9,427.4 267.3,428.5 268.4,430.5 268.9,430.8 269.7,431.3 270.4,431.1 271.3,431.9 272.4,433.6 273.4,431.5 274.2,435.9 274.5,433.9 275.4,436.1 276.3,435.4 277.1,436.2 277.9,436.8 278.4,436.2 279.5,438.2 280.4,439.4 281.1,440.5 281.9,440.8 282.2,441.7 282.7,441.2 283.8,441.5 284.4,440.0 285.3,442.1 286.2,444.9 286.5,444.0 287.6,445.3 288.4,444.9 289.3,445.0 289.9,448.5 290.7,447.3 291.4,449.1 292.3,448.7 293.0,448.4 293.6,446.7 294.0,449.4 294.6,448.1 295.3,448.0 296.2,452.3 297.0,452.3 298.0,452.7 298.9,452.6 299.4,453.1 299.9,454.1 301.2,454.4 301.9,454.9 302.5,456.1 303.5,453.3 304.6,457.4 304.9,456.3 305.7,458.5 306.7,459.3 307.0,457.7 307.6,459.6 308.4,459.9 309.2,461.9 309.9,459.3 310.6,460.4 311.5,458.3 312.7,460.6 313.1,461.7 314.1,466.0 314.5,459.6 315.5,462.2 316.3,464.7 317.1,464.9 317.6,464.5 318.6,463.4 319.7,464.7 320.4,463.4 321.0,464.8 322.0,465.5 321.9,466.7 322.8,467.2 323.5,463.9 324.2,467.9 325.0,468.6 325.7,468.6 326.7,467.6 327.7,468.4 328.4,470.0 329.1,465.3 330.0,470.5 330.6,469.3 331.6,468.2 332.0,466.8 333.0,470.3 333.8,469.2 334.7,471.6 335.5,471.1 336.4,471.0 336.4,472.3 337.2,471.6 337.9,472.5 338.8,472.8 339.5,472.5 340.4,473.3 341.1,473.6 341.8,471.5 342.7,473.0 343.4,473.4 344.3,473.4 345.1,472.3 345.9,473.7 346.7,474.7 347.6,475.1 348.4,476.8 349.2,474.7 349.8,475.2 350.7,475.3 351.1,475.7 351.5,475.4 352.2,474.2 353.2,476.7 354.0,477.6 354.6,477.8 355.6,475.6 356.3,476.7 357.1,479.0 357.8,477.0 358.7,477.7 359.5,477.3 360.3,478.6 361.0,478.7 361.9,478.8 362.7,478.5 363.5,478.7 364.2,476.9 365.1,477.9 365.5,481.0 365.9,478.1 366.7,477.0 367.5,479.8 368.3,477.4 369.1,478.9 369.9,477.2 370.7,481.8 371.5,480.5 372.3,477.8 373.1,479.1 373.9,478.7 374.7,479.1 375.5,479.3 376.3,478.2 377.1,478.7 377.9,478.3 378.7,478.0 379.5,477.6 379.8,480.8 380.3,478.2 381.0,479.6 381.9,479.5 382.8,477.7 383.5,479.9 384.3,477.7 385.1,479.3 385.9,479.2 386.7,477.7 387.5,477.4 388.3,477.3 389.1,480.8 389.9,477.8 390.7,476.8 391.5,479.1 392.3,477.9 393.1,478.0 393.9,476.9 394.7,475.4 395.5,477.0 396.3,476.6 397.1,475.9 397.9,476.5 398.7,476.5 399.5,478.4 400.0,477.0 400.3,478.1 401.1,476.9 401.9,474.0 402.7,477.9 403.5,478.1 404.3,478.7 405.1,477.5 405.9,476.0 406.7,477.9 407.5,476.6 408.3,477.8 409.1,478.3 409.9,476.3 410.7,478.2 411.5,478.9 412.3,478.0 413.1,478.2 413.9,476.5 414.7,477.6 415.5,477.5 416.3,478.4 417.1,478.2 417.9,477.8 418.7,479.9 419.5,478.4 420.3,477.5 421.1,477.2 421.9,477.8 422.7,475.5 423.5,479.7 424.3,478.5 425.1,477.6 425.9,477.2 426.7,474.5 427.5,477.7 428.3,479.4 429.1,480.7 429.9,478.0 430.5,478.2"/>
<polyline stroke="#0a0a0a" stroke-width="3.2" points="83.5,123.5 84.3,122.8 85.1,123.5 85.9,124.2 86.7,121.3 87.5,125.4 88.3,122.9 89.1,122.7 89.9,122.1 90.7,124.5 91.5,124.2 92.3,124.9 93.1,124.5 93.9,123.7 94.7,123.8 95.5,124.5 96.3,122.3 97.1,123.3 97.9,124.7 98.7,122.9 99.5,124.3 100.3,125.6 101.1,124.2 101.9,123.6 102.7,124.0 103.5,121.6 104.3,125.0 105.1,125.0 105.9,123.6 106.7,123.3 107.5,124.6 108.3,124.3 109.1,123.3 109.9,122.6 110.7,125.8 111.5,124.2"/>
<polyline stroke="#0a0a0a" stroke-width="3.0" points="125.8,259.4 125.9,260.8 126.0,262.2 126.1,263.6 126.2,265.0 126.3,266.2 126.4,267.3 126.5,268.5 126.6,269.7 126.7,270.8 126.8,272.0 126.9,273.5"/>
<polyline stroke="#0a0a0a" stroke-width="3.2" points="128.3,282.7 128.7,284.2 129.0,285.8 129.4,287.4 129.8,289.0 130.2,290.6 130.5,292.2 130.9,293.8 131.3,295.5 131.7,297.1 132.0,298.8 132.4,300.3"/>
</g>
<g fill="none" stroke="#f6f6f6" stroke-width="4.6" stroke-linejoin="round" stroke-linecap="round" opacity="0.75">
<path transform="translate(69.40,113.50)" d="M2.60,0.00 H4.00 Q6.60,0.00 6.60,2.60 V8.40 Q6.60,11.00 4.00,11.00 H2.60 Q0.00,11.00 0.00,8.40 V2.60 Q0.00,0.00 2.60,0.00 Z"/>
<path transform="translate(69.40,153.00)" d="M2.60,0.00 H4.00 Q6.60,0.00 6.60,2.60 V8.40 Q6.60,11.00 4.00,11.00 H2.60 Q0.00,11.00 0.00,8.40 V2.60 Q0.00,0.00 2.60,0.00 Z"/>
<path transform="translate(56.40,153.00)" d="M0.6,2.2 L4.2,0 V11 M0.4,11 H7.8"/>
<path transform="translate(69.40,193.15)" d="M2.60,0.00 H4.00 Q6.60,0.00 6.60,2.60 V8.40 Q6.60,11.00 4.00,11.00 H2.60 Q0.00,11.00 0.00,8.40 V2.60 Q0.00,0.00 2.60,0.00 Z"/>
<path transform="translate(56.40,193.15)" d="M-0.6,2.8 Q-0.3,0 3.2,0 Q7,0 7,3.2 Q7,5 4.6,6.6 L-0.5,11 H7.2"/>
<path transform="translate(69.40,232.10)" d="M2.60,0.00 H4.00 Q6.60,0.00 6.60,2.60 V8.40 Q6.60,11.00 4.00,11.00 H2.60 Q0.00,11.00 0.00,8.40 V2.60 Q0.00,0.00 2.60,0.00 Z"/>
<path transform="translate(56.40,232.10)" d="M-1.0,0 H6.8 L2.6,4.6 H3.6 Q7.2,4.6 7.2,7.8 Q7.2,11 3.6,11 Q0.6,11 -1.0,9.6"/>
<path transform="translate(69.40,274.90)" d="M2.60,0.00 H4.00 Q6.60,0.00 6.60,2.60 V8.40 Q6.60,11.00 4.00,11.00 H2.60 Q0.00,11.00 0.00,8.40 V2.60 Q0.00,0.00 2.60,0.00 Z"/>
<path transform="translate(56.40,274.90)" d="M5.6,0 L-0.2,7.6 H7.4 M5.6,0 V11 M3,11 H7.4"/>
<path transform="translate(69.40,315.00)" d="M2.60,0.00 H4.00 Q6.60,0.00 6.60,2.60 V8.40 Q6.60,11.00 4.00,11.00 H2.60 Q0.00,11.00 0.00,8.40 V2.60 Q0.00,0.00 2.60,0.00 Z"/>
<path transform="translate(56.40,315.00)" d="M6.8,0 H0 V4.8 Q1.2,4.3 3.4,4.3 Q7.2,4.3 7.2,7.6 Q7.2,11 3.6,11 Q0.6,11 -1.0,9.6"/>
<path transform="translate(69.40,353.85)" d="M2.60,0.00 H4.00 Q6.60,0.00 6.60,2.60 V8.40 Q6.60,11.00 4.00,11.00 H2.60 Q0.00,11.00 0.00,8.40 V2.60 Q0.00,0.00 2.60,0.00 Z"/>
<path transform="translate(56.40,353.85)" d="M2.60,4.60 H5.60 Q7.80,4.60 7.80,6.80 V8.80 Q7.80,11.00 5.60,11.00 H2.60 Q0.40,11.00 0.40,8.80 V6.80 Q0.40,4.60 2.60,4.60 Z M8.0,0 H4.2 Q3,0 2.2,1.3 L0.6,4.6 Q0.4,5.2 0.4,6.2"/>
<path transform="translate(69.40,394.10)" d="M2.60,0.00 H4.00 Q6.60,0.00 6.60,2.60 V8.40 Q6.60,11.00 4.00,11.00 H2.60 Q0.00,11.00 0.00,8.40 V2.60 Q0.00,0.00 2.60,0.00 Z"/>
<path transform="translate(56.40,394.10)" d="M-1.2,0 H6.8 Q5.4,3 2.4,11"/>
<path transform="translate(69.40,436.70)" d="M2.60,0.00 H4.00 Q6.60,0.00 6.60,2.60 V8.40 Q6.60,11.00 4.00,11.00 H2.60 Q0.00,11.00 0.00,8.40 V2.60 Q0.00,0.00 2.60,0.00 Z"/>
<path transform="translate(56.40,436.70)" d="M2.30,0.00 H4.80 Q6.60,0.00 6.60,1.80 V3.40 Q6.60,5.20 4.80,5.20 H2.30 Q0.50,5.20 0.50,3.40 V1.80 Q0.50,0.00 2.30,0.00 Z M2.20,5.20 H4.80 Q7.00,5.20 7.00,7.40 V8.80 Q7.00,11.00 4.80,11.00 H2.20 Q0.00,11.00 0.00,8.80 V7.40 Q0.00,5.20 2.20,5.20 Z"/>
<path transform="translate(69.40,475.80)" d="M2.60,0.00 H4.00 Q6.60,0.00 6.60,2.60 V8.40 Q6.60,11.00 4.00,11.00 H2.60 Q0.00,11.00 0.00,8.40 V2.60 Q0.00,0.00 2.60,0.00 Z"/>
<path transform="translate(56.40,475.80)" d="M2.50,0.00 H4.60 Q7.00,0.00 7.00,2.40 V4.20 Q7.00,6.60 4.60,6.60 H2.50 Q0.10,6.60 0.10,4.20 V2.40 Q0.10,0.00 2.50,0.00 Z M7.0,4 V5.5 Q7,8 5.2,9.6 Q3.8,11 1.8,11 H0.2"/>
<path transform="translate(69.40,516.15)" d="M2.60,0.00 H4.00 Q6.60,0.00 6.60,2.60 V8.40 Q6.60,11.00 4.00,11.00 H2.60 Q0.00,11.00 0.00,8.40 V2.60 Q0.00,0.00 2.60,0.00 Z"/>
<path transform="translate(56.40,516.15)" d="M2.60,0.00 H4.00 Q6.60,0.00 6.60,2.60 V8.40 Q6.60,11.00 4.00,11.00 H2.60 Q0.00,11.00 0.00,8.40 V2.60 Q0.00,0.00 2.60,0.00 Z"/>
<path transform="translate(43.40,516.15)" d="M0.6,2.2 L4.2,0 V11 M0.4,11 H7.8"/>
</g>
<g fill="none" stroke="#262626" stroke-width="1.8" stroke-linejoin="round" stroke-linecap="round">
<path transform="translate(69.40,113.50)" d="M2.60,0.00 H4.00 Q6.60,0.00 6.60,2.60 V8.40 Q6.60,11.00 4.00,11.00 H2.60 Q0.00,11.00 0.00,8.40 V2.60 Q0.00,0.00 2.60,0.00 Z"/>
<path transform="translate(69.40,153.00)" d="M2.60,0.00 H4.00 Q6.60,0.00 6.60,2.60 V8.40 Q6.60,11.00 4.00,11.00 H2.60 Q0.00,11.00 0.00,8.40 V2.60 Q0.00,0.00 2.60,0.00 Z"/>
<path transform="translate(56.40,153.00)" d="M0.6,2.2 L4.2,0 V11 M0.4,11 H7.8"/>
<path transform="translate(69.40,193.15)" d="M2.60,0.00 H4.00 Q6.60,0.00 6.60,2.60 V8.40 Q6.60,11.00 4.00,11.00 H2.60 Q0.00,11.00 0.00,8.40 V2.60 Q0.00,0.00 2.60,0.00 Z"/>
<path transform="translate(56.40,193.15)" d="M-0.6,2.8 Q-0.3,0 3.2,0 Q7,0 7,3.2 Q7,5 4.6,6.6 L-0.5,11 H7.2"/>
<path transform="translate(69.40,232.10)" d="M2.60,0.00 H4.00 Q6.60,0.00 6.60,2.60 V8.40 Q6.60,11.00 4.00,11.00 H2.60 Q0.00,11.00 0.00,8.40 V2.60 Q0.00,0.00 2.60,0.00 Z"/>
<path transform="translate(56.40,232.10)" d="M-1.0,0 H6.8 L2.6,4.6 H3.6 Q7.2,4.6 7.2,7.8 Q7.2,11 3.6,11 Q0.6,11 -1.0,9.6"/>
<path transform="translate(69.40,274.90)" d="M2.60,0.00 H4.00 Q6.60,0.00 6.60,2.60 V8.40 Q6.60,11.00 4.00,11.00 H2.60 Q0.00,11.00 0.00,8.40 V2.60 Q0.00,0.00 2.60,0.00 Z"/>
<path transform="translate(56.40,274.90)" d="M5.6,0 L-0.2,7.6 H7.4 M5.6,0 V11 M3,11 H7.4"/>
<path transform="translate(69.40,315.00)" d="M2.60,0.00 H4.00 Q6.60,0.00 6.60,2.60 V8.40 Q6.60,11.00 4.00,11.00 H2.60 Q0.00,11.00 0.00,8.40 V2.60 Q0.00,0.00 2.60,0.00 Z"/>
<path transform="translate(56.40,315.00)" d="M6.8,0 H0 V4.8 Q1.2,4.3 3.4,4.3 Q7.2,4.3 7.2,7.6 Q7.2,11 3.6,11 Q0.6,11 -1.0,9.6"/>
<path transform="translate(69.40,353.85)" d="M2.60,0.00 H4.00 Q6.60,0.00 6.60,2.60 V8.40 Q6.60,11.00 4.00,11.00 H2.60 Q0.00,11.00 0.00,8.40 V2.60 Q0.00,0.00 2.60,0.00 Z"/>
<path transform="translate(56.40,353.85)" d="M2.60,4.60 H5.60 Q7.80,4.60 7.80,6.80 V8.80 Q7.80,11.00 5.60,11.00 H2.60 Q0.40,11.00 0.40,8.80 V6.80 Q0.40,4.60 2.60,4.60 Z M8.0,0 H4.2 Q3,0 2.2,1.3 L0.6,4.6 Q0.4,5.2 0.4,6.2"/>
<path transform="translate(69.40,394.10)" d="M2.60,0.00 H4.00 Q6.60,0.00 6.60,2.60 V8.40 Q6.60,11.00 4.00,11.00 H2.60 Q0.00,11.00 0.00,8.40 V2.60 Q0.00,0.00 2.60,0.00 Z"/>
<path transform="translate(56.40,394.10)" d="M-1.2,0 H6.8 Q5.4,3 2.4,11"/>
<path transform="translate(69.40,436.70)" d="M2.60,0.00 H4.00 Q6.60,0.00 6.60,2.60 V8.40 Q6.60,11.00 4.00,11.00 H2.60 Q0.00,11.00 0.00,8.40 V2.60 Q0.00,0.00 2.60,0.00 Z"/>
<path transform="translate(56.40,436.70)" d="M2.30,0.00 H4.80 Q6.60,0.00 6.60,1.80 V3.40 Q6.60,5.20 4.80,5.20 H2.30 Q0.50,5.20 0.50,3.40 V1.80 Q0.50,0.00 2.30,0.00 Z M2.20,5.20 H4.80 Q7.00,5.20 7.00,7.40 V8.80 Q7.00,11.00 4.80,11.00 H2.20 Q0.00,11.00 0.00,8.80 V7.40 Q0.00,5.20 2.20,5.20 Z"/>
<path transform="translate(69.40,475.80)" d="M2.60,0.00 H4.00 Q6.60,0.00 6.60,2.60 V8.40 Q6.60,11.00 4.00,11.00 H2.60 Q0.00,11.00 0.00,8.40 V2.60 Q0.00,0.00 2.60,0.00 Z"/>
<path transform="translate(56.40,475.80)" d="M2.50,0.00 H4.60 Q7.00,0.00 7.00,2.40 V4.20 Q7.00,6.60 4.60,6.60 H2.50 Q0.10,6.60 0.10,4.20 V2.40 Q0.10,0.00 2.50,0.00 Z M7.0,4 V5.5 Q7,8 5.2,9.6 Q3.8,11 1.8,11 H0.2"/>
<path transform="translate(69.40,516.15)" d="M2.60,0.00 H4.00 Q6.60,0.00 6.60,2.60 V8.40 Q6.60,11.00 4.00,11.00 H2.60 Q0.00,11.00 0.00,8.40 V2.60 Q0.00,0.00 2.60,0.00 Z"/>
<path transform="translate(56.40,516.15)" d="M2.60,0.00 H4.00 Q6.60,0.00 6.60,2.60 V8.40 Q6.60,11.00 4.00,11.00 H2.60 Q0.00,11.00 0.00,8.40 V2.60 Q0.00,0.00 2.60,0.00 Z"/>
<path transform="translate(43.40,516.15)" d="M0.6,2.2 L4.2,0 V11 M0.4,11 H7.8"/>
</g>
<g font-family="Liberation Serif, serif" font-weight="bold" font-size="21" fill="#111" stroke="#111" stroke-width="0.45" text-anchor="middle">
<text x="167.6" y="591.3">2</text>
<text x="253.4" y="591.3">4</text>
<text x="337.6" y="591.3">6</text>
<text x="423.1" y="591.3">8</text>
</g>
<g font-family="Liberation Serif, serif" font-weight="bold" fill="#111" stroke="#111" stroke-width="0.45">
<text x="291.4" y="616.6" font-size="20.2" text-anchor="middle">Time (min)</text>
<text transform="translate(21.2,332.2) rotate(-90)" font-size="20.3" text-anchor="middle">Percent Aggregation</text>
<text x="399.3" y="548.8" font-size="20.6" text-anchor="middle">a</text>
<text x="444.4" y="476.4" font-size="20.6" text-anchor="middle">b</text>
<text x="467.9" y="220.6" font-size="20.6" text-anchor="middle">c</text>
<text x="466.8" y="144.8" font-size="20.6" text-anchor="middle">d</text>
</g>
<circle cx="520" cy="13" r="1.4" fill="#777"/>
<circle cx="520.5" cy="118" r="1.6" fill="#b0b0b0"/>
<path d="M108.2,531.8 L115.2,541.7 L111.2,541.7 L111.2,568.1 L105.2,568.1 L105.2,541.7 L101.7,541.7 Z" fill="#000"/>
</svg>
</body></html>
